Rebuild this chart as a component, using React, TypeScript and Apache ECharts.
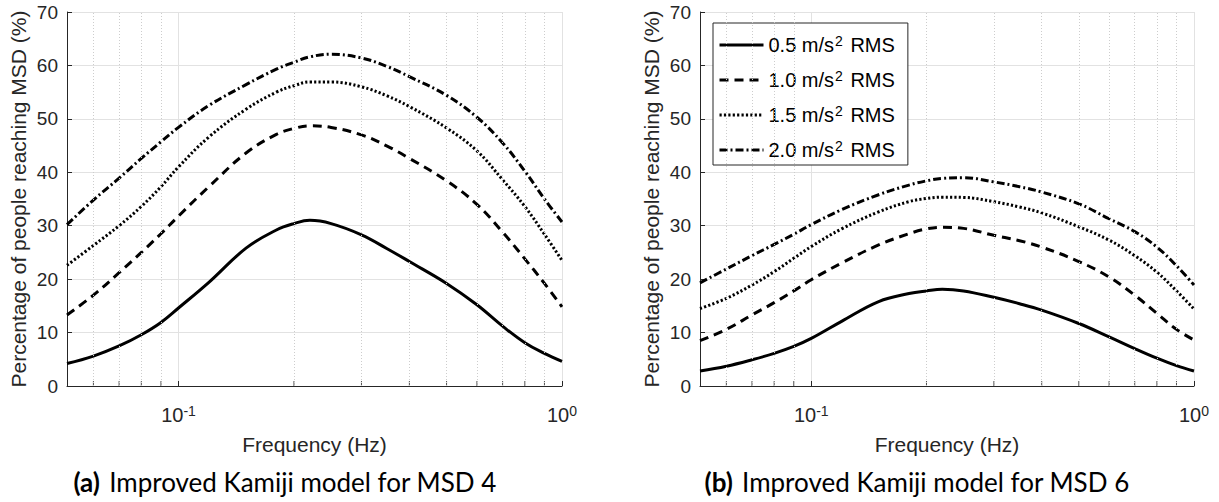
import React, { useEffect, useRef } from 'react';
import * as echarts from 'echarts';

// Frequencies (Hz) at which the curves were read
const FREQ = [0.0512, 0.06, 0.07, 0.08, 0.09, 0.1, 0.12, 0.15, 0.18, 0.2, 0.22, 0.25, 0.3, 0.35, 0.4, 0.5, 0.6, 0.7, 0.8, 0.9, 1.0];

// (a) MSD 4
const MSD4_05 = [4.2, 5.6, 7.5, 9.6, 11.9, 14.6, 19.4, 25.8, 29.2, 30.4, 31.0, 30.4, 28.3, 25.7, 23.3, 19.2, 15.2, 11.2, 8.1, 6.1, 4.6];
const MSD4_10 = [13.3, 17.0, 21.2, 25.0, 28.5, 31.8, 37.3, 43.6, 47.1, 48.2, 48.7, 48.4, 47.0, 44.9, 42.6, 38.4, 34.0, 28.8, 23.8, 19.2, 14.8];
const MSD4_15 = [22.6, 26.3, 30.0, 33.6, 37.3, 41.0, 46.6, 51.8, 55.0, 56.2, 56.9, 56.9, 56.0, 54.3, 52.3, 48.3, 44.0, 38.6, 33.6, 28.4, 23.5];
const MSD4_20 = [30.2, 34.8, 38.9, 42.6, 45.7, 48.4, 52.5, 56.4, 59.3, 60.6, 61.6, 62.1, 61.4, 59.8, 57.9, 54.4, 50.3, 45.5, 40.2, 35.0, 30.7];

// (b) MSD 6
const MSD6_05 = [2.8, 3.7, 4.9, 6.1, 7.4, 8.9, 12.1, 15.8, 17.3, 17.8, 18.1, 17.8, 16.6, 15.4, 14.2, 11.7, 9.2, 7.0, 5.2, 3.8, 2.8];
const MSD6_10 = [8.5, 10.6, 13.3, 15.6, 17.8, 19.9, 23.0, 26.4, 28.5, 29.4, 29.7, 29.5, 28.2, 27.2, 26.0, 23.3, 20.4, 17.0, 13.6, 10.6, 8.6];
const MSD6_15 = [14.5, 16.4, 18.9, 21.4, 23.9, 26.1, 29.4, 32.6, 34.5, 35.1, 35.35, 35.3, 34.5, 33.5, 32.4, 29.8, 27.3, 24.4, 21.3, 17.8, 14.4];
const MSD6_20 = [19.3, 21.9, 24.4, 26.5, 28.4, 30.2, 33.0, 35.8, 37.6, 38.4, 38.85, 39.0, 38.2, 37.3, 36.3, 34.1, 31.3, 28.9, 26.0, 22.5, 18.9];

const LEVELS = ['0.5', '1.0', '1.5', '2.0'];
const MINOR_FREQ = [0.06, 0.07, 0.08, 0.09, 0.2, 0.3, 0.4, 0.5, 0.6, 0.7, 0.8, 0.9];
const X_MIN = 0.0512;
const X_MAX = 1;
const Y_MIN = 0;
const Y_MAX = 70;
const Y_STEP = 10;
const X_TITLE = 'Frequency (Hz)';
const Y_TITLE = 'Percentage of people reaching MSD (%)';
const CAPTION_TAGS = ['(a)', '(b)'];
const CAPTION_TEXTS = ['Improved Kamiji model for MSD 4', 'Improved Kamiji model for MSD 6'];

const PANELS = [
  [MSD4_05, MSD4_10, MSD4_15, MSD4_20],
  [MSD6_05, MSD6_10, MSD6_15, MSD6_20],
];

const F = '"Liberation Sans", Arial, Helvetica, sans-serif';
const CAP_F = 'Lato, "Noto Sans", sans-serif';
const INK = '#262626';
const GRID = '#e2e2e2';
const DASHES: any[] = ['solid', [9, 6], [2.2, 2.2], [8, 3, 2, 3]];

const seriesName = (lvl: string) => `${lvl} m/s² RMS`;

export default function App() {
  const ref = useRef<HTMLDivElement>(null);
  useEffect(() => {
    if (!ref.current) return;
    const chart = echarts.init(ref.current, undefined, { renderer: 'svg' });

    const grids = [
      { left: 67, top: 12, width: 495, height: 374 },
      { left: 700, top: 12, width: 494, height: 374 },
    ];

    const xAxes = grids.map((_, i) => ({
      type: 'log',
      logBase: 10,
      gridIndex: i,
      min: X_MIN,
      max: X_MAX,
      name: X_TITLE,
      nameLocation: 'middle',
      nameGap: 48,
      nameTextStyle: { fontSize: 21, fontFamily: F, color: INK },
      axisLine: { show: true, lineStyle: { color: INK, width: 1 } },
      axisTick: { show: true, inside: true, length: 5, lineStyle: { color: INK } },
      splitLine: { show: true, lineStyle: { color: GRID, width: 1 } },
      axisLabel: {
        margin: 18,
        formatter: (v: number) => {
          const l = Math.log10(v);
          const e = Math.round(l);
          if (Math.abs(l - e) > 1e-6) return '';
          return `{b|10}{s|${e}}`;
        },
        rich: {
          b: { fontSize: 20, fontFamily: F, color: INK },
          s: { fontSize: 14, fontFamily: F, color: INK, verticalAlign: 'top', padding: [0, 0, 8, 0] },
        },
      },
    }));

    const yAxes = grids.map((_, i) => ({
      type: 'value',
      gridIndex: i,
      min: Y_MIN,
      max: Y_MAX,
      interval: Y_STEP,
      name: Y_TITLE,
      nameLocation: 'middle',
      nameGap: 38,
      nameRotate: 90,
      nameTextStyle: { fontSize: 21, fontFamily: F, color: INK },
      axisLine: { show: true, lineStyle: { color: INK, width: 1 } },
      axisTick: { show: true, inside: true, length: 5, lineStyle: { color: INK } },
      splitLine: { show: true, lineStyle: { color: GRID, width: 1 } },
      axisLabel: { fontSize: 19, fontFamily: F, color: INK, margin: 9 },
    }));

    const series: any[] = [];
    PANELS.forEach((panel, i) => {
      series.push({
        type: 'scatter',
        xAxisIndex: i,
        yAxisIndex: i,
        silent: true,
        z: 1,
        symbol: 'rect',
        symbolSize: [1, 5],
        symbolOffset: [0, -2.5],
        itemStyle: { color: INK },
        data: MINOR_FREQ.map((f) => [f, Y_MIN]),
        markLine: {
          silent: true,
          symbol: ['none', 'none'],
          label: { show: false },
          lineStyle: { color: '#cdcdcd', type: [1, 2], width: 1 },
          data: MINOR_FREQ.map((f) => ({ xAxis: f })),
        },
      });
      panel.forEach((vals, k) => {
        series.push({
          type: 'line',
          name: seriesName(LEVELS[k]),
          xAxisIndex: i,
          yAxisIndex: i,
          showSymbol: false,
          symbol: 'none',
          smooth: 0.4,
          z: 3,
          lineStyle: { color: '#000', width: 3, type: DASHES[k] },
          itemStyle: { color: '#000' },
          data: FREQ.map((f, j) => [f, vals[j]]),
        });
      });
    });

    const option: any = {
      animation: false,
      backgroundColor: '#fff',
      grid: grids,
      xAxis: xAxes,
      yAxis: yAxes,
      legend: {
        show: true,
        orient: 'vertical',
        left: 713,
        top: 23,
        padding: [11, 13, 5, 5],
        itemWidth: 44,
        itemHeight: 14,
        itemGap: 14,
        backgroundColor: '#fff',
        borderColor: INK,
        borderWidth: 1,
        borderRadius: 0,
        selectedMode: false,
        itemStyle: { opacity: 0, color: 'rgba(0,0,0,0)', borderWidth: 0 },
        lineStyle: { width: 3 },
        data: LEVELS.map(seriesName),
        formatter: (name: string) => {
          const lvl = name.split(' ')[0];
          return `{t|${lvl} m/s}{s|2}{t| RMS}`;
        },
        textStyle: {
          rich: {
            t: { fontSize: 20, fontFamily: F, color: '#000', lineHeight: 22 },
            s: { fontSize: 14, fontFamily: F, color: '#000', verticalAlign: 'top', lineHeight: 14, padding: [0, 2, 0, 1] },
          },
        },
      },
      graphic: CAPTION_TAGS.map((tag, i) => ({
        type: 'text',
        x: [285, 917][i],
        y: 482,
        style: {
          text: `{b|${tag}}{n|${CAPTION_TEXTS[i]}}`,
          align: 'center',
          verticalAlign: 'middle',
          rich: {
            b: { fontSize: 26, fontFamily: CAP_F, fontWeight: 'bold', fill: '#000', padding: [0, 9, 0, 0] },
            n: { fontSize: 26, fontFamily: CAP_F, fill: '#000' },
          },
        },
      })),
      series,
    };

    chart.setOption(option);
    return () => chart.dispose();
  }, []);

  return (
    <div
      ref={ref}
      style={{ position: 'absolute', left: 0, top: 0, width: 1219, height: 502 }}
    />
  );
}
